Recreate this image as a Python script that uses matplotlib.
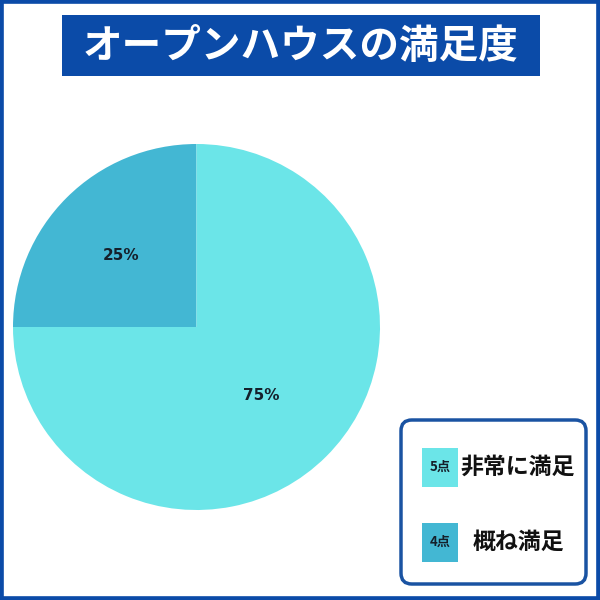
import matplotlib
matplotlib.use("Agg")
import numpy as np
import matplotlib.pyplot as plt
from matplotlib.patches import Rectangle, FancyBboxPatch

plt.rcParams['font.family'] = ['Noto Sans CJK JP', 'DejaVu Sans']

# data
title = "オープンハウスの満足度"
shares = [25, 75]                      # %
score_tags = ["4点", "5点"]
answer_labels = ["概ね満足", "非常に満足"]
slice_colors = ["#43b7d3", "#6be5e8"]

BLUE = "#0b4ba8"
TEXT = "#15202b"
W, H = 600, 600


def px(x, y):
    # pixel coords (top-left origin) -> figure fraction
    return x / W, 1 - y / H


fig = plt.figure(figsize=(6, 6), dpi=100)
fig.patch.set_facecolor("white")

# outer frame
fig.patches.append(Rectangle((0, 0), 1, 1, transform=fig.transFigure,
                             fill=False, edgecolor=BLUE, linewidth=5.5))

# title band
x0, y1 = px(62, 76)
fig.patches.append(Rectangle((x0, y1), (540 - 62) / W, (76 - 15) / H,
                             transform=fig.transFigure, facecolor=BLUE,
                             edgecolor="none"))
tx, ty = px(301, 47)
fig.text(tx, ty, title, color="white", fontsize=28.5, fontweight="bold",
         ha="center", va="center")

# pie
left, bottom = px(13, 510)
ax = fig.add_axes([left, bottom, 367 / W, 366 / H])
wedges, _ = ax.pie(shares, colors=slice_colors, startangle=90,
                   counterclock=True, radius=1,
                   wedgeprops=dict(linewidth=0))
ax.set_xlim(-1, 1)
ax.set_ylim(-1, 1)
ax.set_aspect("auto")
ax.axis("off")

label_dist = [0.58, 0.5]
for w, val, d in zip(wedges, shares, label_dist):
    ang = np.deg2rad((w.theta1 + w.theta2) / 2)
    ax.text(d * np.cos(ang), d * np.sin(ang) - 0.02, f"{val}%", ha="center",
            va="center", fontsize=11, fontweight="bold", color=TEXT,
            family="DejaVu Sans")

# legend box
lx, ly = px(401, 584)
fig.patches.append(FancyBboxPatch((lx, ly), (586 - 401) / W, (584 - 420) / H,
                                  boxstyle="round,pad=0,rounding_size=0.018",
                                  transform=fig.transFigure, facecolor="white",
                                  edgecolor="#1a53a2", linewidth=2.5))

rows_y = [542, 467]   # centres of legend rows, pixels
for tag, lab, col, yc in zip(score_tags, answer_labels, slice_colors, rows_y):
    sx, sy = px(422, yc + 19.5)
    fig.patches.append(Rectangle((sx, sy), 36 / W, 39 / H,
                                 transform=fig.transFigure, facecolor=col,
                                 edgecolor="none"))
    cx, cy = px(440, yc)
    fig.text(cx, cy, tag, fontsize=9.5, fontweight="bold", color=TEXT,
             ha="center", va="center")
    lx2, ly2 = px(518, yc)
    fig.text(lx2, ly2, lab, fontsize=16.5, fontweight="bold", color="#111111",
             ha="center", va="center")

fig.savefig("out.png", dpi=100)
